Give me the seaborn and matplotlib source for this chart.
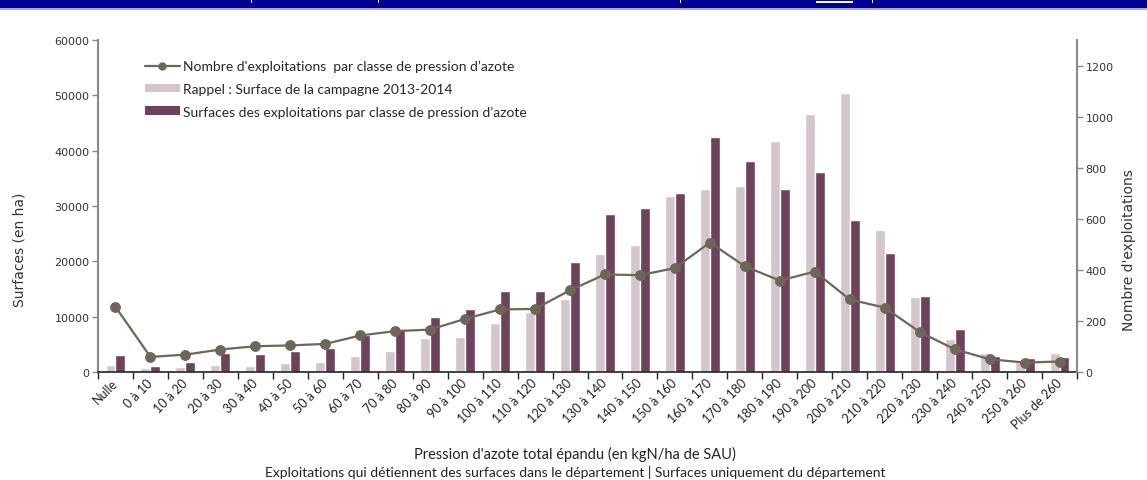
import numpy as np
import pandas as pd
import matplotlib
matplotlib.use("Agg")
import matplotlib.pyplot as plt
from matplotlib.lines import Line2D
from matplotlib.patches import Patch, Rectangle
import seaborn as sns

# classes de pression d'azote
categories = ["Nulle", "0 à 10", "10 à 20", "20 à 30", "30 à 40", "40 à 50",
              "50 à 60", "60 à 70", "70 à 80", "80 à 90", "90 à 100",
              "100 à 110", "110 à 120", "120 à 130", "130 à 140", "140 à 150",
              "150 à 160", "160 à 170", "170 à 180", "180 à 190", "190 à 200",
              "200 à 210", "210 à 220", "220 à 230", "230 à 240", "240 à 250",
              "250 à 260", "Plus de 260"]

# surfaces (ha) campagne 2013-2014 (rappel)
surface_rappel = [1200, 800, 850, 1260, 1140, 1690, 1750, 2890, 3860, 6090,
                  6330, 8800, 10840, 13200, 21300, 22930, 31720, 33100, 33590,
                  41700, 46630, 50430, 25750, 13500, 5930, 3430, 1870, 3430]

# surfaces (ha) des exploitations
surface_expl = [3070, 1140, 1750, 3380, 3200, 3780, 4340, 6750, 7800, 10000,
                11390, 14580, 14580, 19790, 28510, 29600, 32260, 42560, 38130,
                33050, 36200, 27420, 21420, 13800, 7740, 2830, 2470, 2650]

# nombre d'exploitations
nb_expl = [255, 59, 68, 88, 101, 104, 110, 143, 160, 166, 208, 245, 247, 320,
           382, 379, 407, 507, 414, 358, 393, 284, 252, 157, 89, 50, 37, 41]

lab_line = "Nombre d'exploitations  par classe de pression d’azote"
lab_rappel = "Rappel : Surface de la campagne 2013-2014"
lab_surf = "Surfaces des exploitations par classe de pression d’azote"

c_light = "#d4c5cd"
c_dark = "#6e425a"
c_line = "#6e6658"

sns.set_style("white")
plt.rcParams["font.family"] = ["DejaVu Sans"]

n = len(categories)
df = pd.DataFrame({
    "classe": categories * 2,
    "surface": surface_rappel + surface_expl,
    "serie": [lab_rappel] * n + [lab_surf] * n,
})

W, H = 1147, 481
fig = plt.figure(figsize=(W / 100, H / 100), dpi=100)
ax = fig.add_axes([98 / W, 1 - 373 / H, (1077 - 98) / W, (373 - 41) / H])

sns.barplot(data=df, x="classe", y="surface", hue="serie",
            hue_order=[lab_rappel, lab_surf], palette=[c_light, c_dark],
            width=0.57, saturation=1, errorbar=None, legend=False, ax=ax)

ax2 = ax.twinx()
sns.lineplot(x=np.arange(n), y=nb_expl, sort=False, ax=ax2, color=c_line,
             marker="o", markersize=7, markeredgecolor=c_line, linewidth=1.6)

ax.set_xlim(-0.5, n - 0.5)
ax.set_ylim(0, 60000)
ax.set_yticks(np.arange(0, 60001, 10000))
ax2.set_ylim(0, 1300)
ax2.set_yticks(np.arange(0, 1201, 200))

# spines
ax.spines["top"].set_visible(False)
ax2.spines["top"].set_visible(False)
ax.spines["right"].set_visible(False)
ax2.spines["left"].set_visible(False)
ax2.spines["bottom"].set_visible(False)
ax.spines["left"].set_color("#8a8a8a")
ax.spines["left"].set_linewidth(1.5)
ax2.spines["right"].set_color("#8a8a8a")
ax2.spines["right"].set_linewidth(1.5)
ax.spines["bottom"].set_color("#222222")
ax.spines["bottom"].set_linewidth(1.2)

ax.tick_params(axis="y", direction="out", length=4, width=1, color="#8a8a8a",
               labelsize=8, labelcolor="#333333", pad=2, left=True)
ax2.tick_params(axis="y", direction="out", length=4, width=1, color="#8a8a8a",
                labelsize=8, labelcolor="#333333", pad=2, right=True)

# ticks between categories, labels at centres
ax.set_xticks(range(n))
ax.set_xticks(np.arange(-0.5, n), minor=True)
ax.tick_params(axis="x", which="major", length=0, pad=6)
ax.tick_params(axis="x", which="minor", direction="out", length=5, width=1,
               color="#222222", bottom=True)
ax.set_xticklabels(categories)
for t in ax.get_xticklabels():
    t.set_rotation(45)
    t.set_ha("right")
    t.set_va("center")
    t.set_rotation_mode("anchor")
    t.set_fontfamily("Lato")
    t.set_fontsize(9)
    t.set_color("#222222")

ax.set_xlabel("Pression d'azote total épandu (en kgN/ha de SAU)",
              fontfamily="Lato", fontsize=10.5, color="#222222")
ax.xaxis.set_label_coords((575 - 98) / 979, (373 - 454) / 332)
ax.xaxis.label.set_va("center")

ax.set_ylabel("Surfaces (en ha)", fontsize=10, color="#333333")
ax.yaxis.label.set_va("center")
ax.yaxis.set_label_coords((20 - 98) / 979, 0.37)
ax2.set_ylabel("Nombre d'exploitations", fontsize=10, color="#333333")
ax2.yaxis.label.set_va("center")
ax2.yaxis.set_label_coords((1129 - 98) / 979, 0.37)

handles = [
    Line2D([], [], color=c_line, marker="o", markersize=5, linewidth=1.6),
    Patch(facecolor=c_light, edgecolor="none"),
    Patch(facecolor=c_dark, edgecolor="none"),
]
ax2.legend(handles, [lab_line, lab_rappel, lab_surf], loc="upper left",
           bbox_to_anchor=(145 / W, 1 - 61 / H), bbox_transform=fig.transFigure,
           frameon=False, prop={"family": "Lato", "size": 10},
           handlelength=2.5, handleheight=0.6, handletextpad=0.25,
           labelspacing=0.75, borderpad=0, borderaxespad=0)

# bandeau du haut
fig.add_artist(Rectangle((0, 1 - 9 / H), 1, 9 / H, transform=fig.transFigure,
                         facecolor="#000091", edgecolor="none"))
fig.add_artist(Rectangle((0, 1 - 10.5 / H), 1, 1.5 / H, transform=fig.transFigure,
                         facecolor="#a6a6dc", edgecolor="none"))
for xs in [251, 378, 680, 872]:
    fig.add_artist(Rectangle((xs / W, 1 - 4 / H), 1 / W, 4 / H,
                             transform=fig.transFigure, facecolor="#e8e8ff",
                             edgecolor="none"))
fig.add_artist(Rectangle((816 / W, 1 - 3.5 / H), 37 / W, 1.5 / H,
                         transform=fig.transFigure, facecolor="white",
                         edgecolor="none"))

fig.text(575 / W, 1 - 466 / H,
         "Exploitations qui détiennent des surfaces dans le département | "
         "Surfaces uniquement du département",
         ha="center", va="top", fontfamily="Lato", fontsize=10,
         color="#222222")

fig.savefig("out.png", dpi=100)
